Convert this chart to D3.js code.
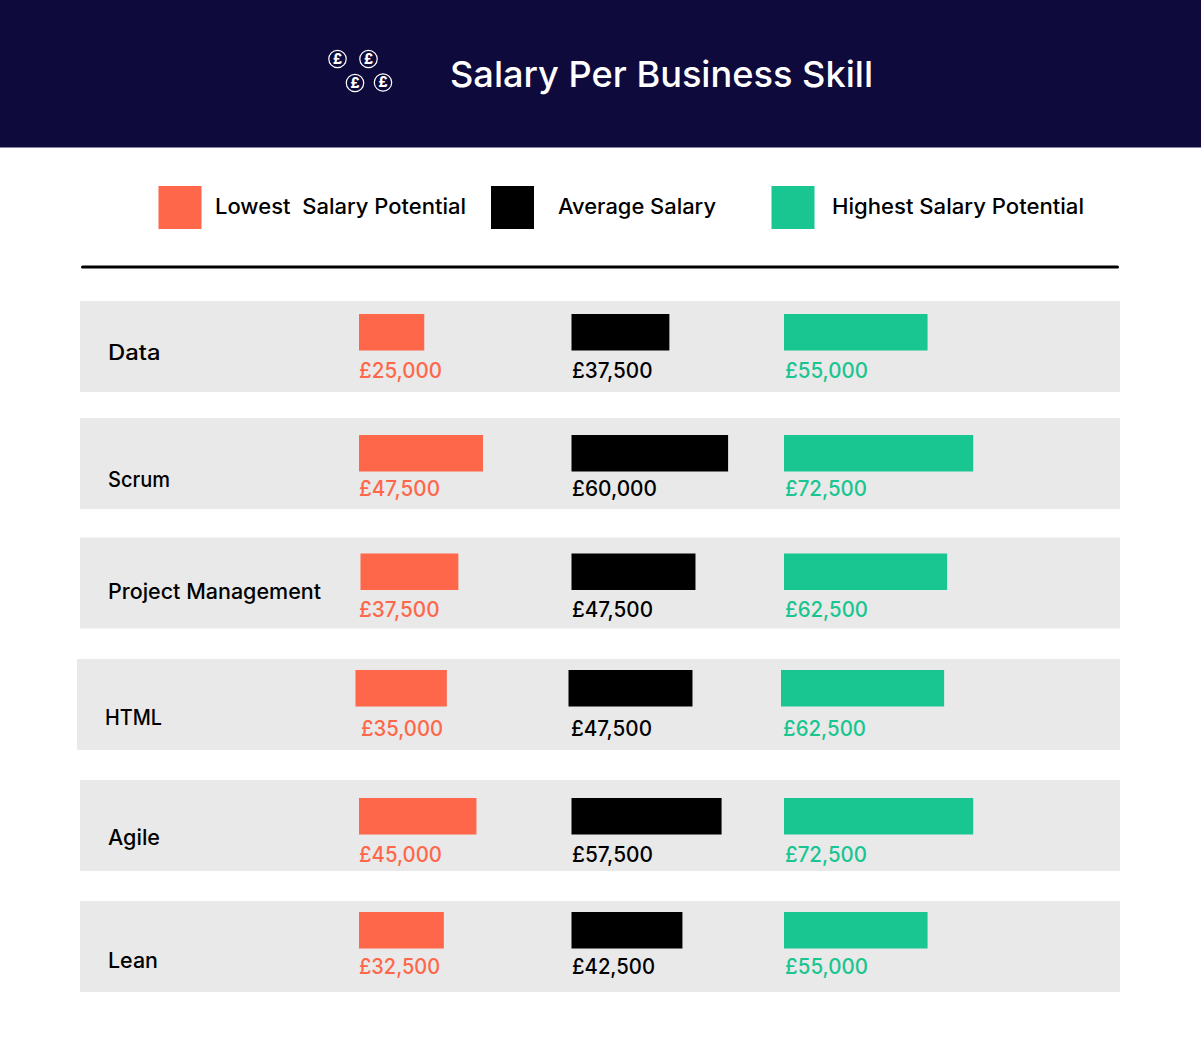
<!DOCTYPE html>
<html><head><meta charset="utf-8">
<script src="https://cdn.jsdelivr.net/npm/d3@7"></script>
<style>html,body{margin:0;padding:0;background:#fff}svg{display:block}text{font-family:Inter,Lato,sans-serif}</style>
</head><body><svg id="c" width="1201" height="1058"></svg>
<script>
const title = "Salary Per Business Skill";
const categories = ["Data","Scrum","Project Management","HTML","Agile","Lean"];
const seriesNames = ["Lowest  Salary Potential","Average Salary","Highest Salary Potential"];
const lowest = [25000,47500,37500,35000,45000,32500];
const average = [37500,60000,47500,47500,57500,42500];
const highest = [55000,72500,62500,62500,72500,55000];

// layout, kept apart from the data
const colors = ["#ff674a","#000000","#19c590"];
const navy = "#0f0a3c";
const rowTop = d3.scaleOrdinal(categories,[301,418,537.5,659,780,901]);
const barTop = d3.scaleOrdinal(categories,[314,435,553.5,670,798,912]);
const valueBase = d3.scaleOrdinal(categories,[378,496,617,736,862,974]);
const labelBase = d3.scaleOrdinal(categories,[360,487,599,725,845,968]);
const rowShift = d3.scaleOrdinal(categories,[0,0,0,-3,0,0]);
const col = d3.scaleOrdinal([0,1,2],[359,571.5,784]);
const w = d3.scaleLinear([0,100000],[0,261]);
const svg = d3.select("#c");
const fmt = d => "£" + d3.format(",")(d);
const valueW = new Map([[25000,83],[47500,81],[37500,80.5],[60000,85],[72500,82],[55000,83],[62500,83],[35000,82],[45000,83],[57500,81],[32500,81],[42500,83]]);

svg.append("rect").attr("width",1201).attr("height",147.5).attr("fill",navy);
svg.append("text").text(title).attr("x",450).attr("y",87).attr("fill","#fff")
  .attr("font-size",36).attr("font-weight",500).attr("textLength",423).attr("lengthAdjust","spacingAndGlyphs");

const coins = [[337.5,59],[368.5,59],[355,83],[383,82.5]];
const coin = svg.selectAll(".coin").data(coins).join("g").attr("transform",d=>`translate(${d[0]},${d[1]})`);
coin.append("circle").attr("r",8.7).attr("fill","none").attr("stroke","#fff").attr("stroke-width",1.2);
coin.append("text").text("£").attr("text-anchor","middle").attr("y",4.8).attr("fill","#fff").attr("font-size",14).attr("font-weight",800);

const legX = [158.5,491,771.5], legT = [215,558,832], legW = [251,158,252];
seriesNames.forEach((n,i)=>{
  svg.append("rect").attr("x",legX[i]).attr("y",186).attr("width",43).attr("height",43).attr("fill",colors[i]);
  svg.append("text").text(n).attr("x",legT[i]).attr("y",214).attr("font-size",21).attr("font-weight",500).attr("fill","#000")
    .style("white-space","pre").attr("textLength",legW[i]).attr("lengthAdjust","spacingAndGlyphs");
});
svg.append("line").attr("x1",82.5).attr("x2",1117.5).attr("y1",267).attr("y2",267).attr("stroke","#000").attr("stroke-width",3).attr("stroke-linecap","round");

const rows = svg.selectAll(".row").data(categories).join("g");
rows.append("rect").attr("x",d=>80+rowShift(d)).attr("y",d=>rowTop(d))
  .attr("width",d=>1040-rowShift(d)).attr("height",91).attr("fill","#e9e9e9");
const labelW = {"Data":52.5,"Scrum":62,"Project Management":213,"HTML":57,"Agile":52,"Lean":50};
rows.append("text").text(d=>d).attr("x",d=>108+rowShift(d)).attr("y",d=>labelBase(d))
  .attr("font-size",21).attr("font-weight",500).attr("fill","#000")
  .attr("textLength",d=>labelW[d]).attr("lengthAdjust","spacingAndGlyphs");

const pmLowShift = 1.5;
[lowest,average,highest].forEach((vals,s)=>{
  const x = (c) => col(s)+rowShift(c)+(c==="Project Management"&&s===0?pmLowShift:0)+(c==="HTML"&&s===0?-0.5:0);
  svg.selectAll(".b"+s).data(categories).join("rect")
    .attr("x",c=>x(c)).attr("y",c=>barTop(c)).attr("height",36.5)
    .attr("width",(c,i)=>w(vals[i])).attr("fill",colors[s]);
  const tx = (c)=> c==="HTML" ? [361,571,783][s] : [359,572,785][s];
  svg.selectAll(".v"+s).data(categories).join("text")
    .text((c,i)=>fmt(vals[i])).attr("x",tx).attr("y",c=>valueBase(c))
    .attr("font-size",21).attr("font-weight",500).attr("fill",colors[s])
    .attr("textLength",(c,i)=>valueW.get(vals[i])).attr("lengthAdjust","spacingAndGlyphs");
});
</script></body></html>
